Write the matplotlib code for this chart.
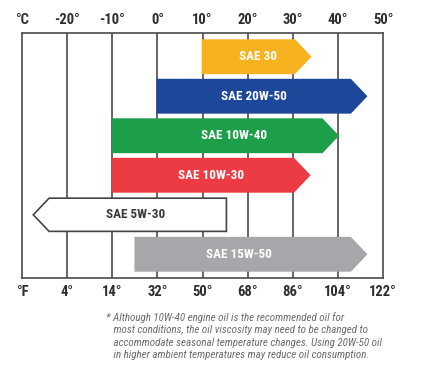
import matplotlib
matplotlib.use("Agg")
import matplotlib.pyplot as plt
from matplotlib.patches import Polygon

# SAE oil viscosity chart by ambient temperature

oils = ['SAE 30', 'SAE 20W-50', 'SAE 10W-40', 'SAE 10W-30', 'SAE 5W-30', 'SAE 15W-50']
flat_end = [10, 0, -10, -10, 15.3, -4.9]      # °C, square end of the arrow
tip_end = [33.9, 46.3, 40.0, 33.7, -27.5, 46.3]  # °C, pointed end
label_x = [22.2, 21.3, 16.9, 12.0, -4.9, 18.0]
colors = ['#f6b21f', '#1d4798', '#1d9e48', '#ed3b44', '#ffffff', '#a6a7aa']
text_colors = ['white', 'white', 'white', 'white', '#3a3a3a', 'white']

celsius = [-20, -10, 0, 10, 20, 30, 40, 50]
fahrenheit = ['4°', '14°', '32°', '50°', '68°', '86°', '104°', '122°']

note = ("* Although 10W-40 engine oil is the recommended oil for\n"
        "   most conditions, the oil viscosity may need to be changed to\n"
        "   accommodate seasonal temperature changes. Using 20W-50 oil\n"
        "   in higher ambient temperatures may reduce oil consumption.")

fonts = ['Roboto Condensed', 'DejaVu Sans']
grid_col = '#4a4a4a'

fig = plt.figure(figsize=(4.23, 3.84), dpi=100)
ax = fig.add_axes([22 / 423, 106 / 384, 361 / 423, 245 / 384])
ax.set_xlim(-30, 50)
ax.set_ylim(5.6, -0.6)

for x in celsius[:-1]:
    ax.axvline(x, color=grid_col, lw=1.2, zorder=1)
for s in ax.spines.values():
    s.set_color(grid_col)
    s.set_linewidth(1.2)

h = 0.84
depth = 3.5
for i, name in enumerate(oils):
    a, b = flat_end[i], tip_end[i]
    d = depth if b > a else -depth
    pts = [(a, i - h / 2), (b - d, i - h / 2), (b, i), (b - d, i + h / 2), (a, i + h / 2)]
    edge = '#444444' if colors[i] == '#ffffff' else colors[i]
    ax.add_patch(Polygon(pts, closed=True, facecolor=colors[i], edgecolor=edge,
                         lw=1.2, zorder=3))
    ax.text(label_x[i], i, name, ha='center', va='center', color=text_colors[i],
            fontsize=9.5, fontweight='bold', family=fonts, zorder=4)

ax.set_yticks([])
ax.set_xticks([-30] + celsius)
ax.set_xticklabels(['°F'] + fahrenheit)
ax.tick_params(axis='x', length=0, pad=5, labelsize=10.5, colors='#2e2e2e')
for lab in ax.get_xticklabels():
    lab.set_fontweight('bold')
    lab.set_family(fonts)

top = ax.secondary_xaxis('top')
top.set_xticks([-30] + celsius)
top.set_xticklabels(['°C'] + ['%d°' % c for c in celsius])
top.tick_params(axis='x', length=0, pad=4, labelsize=10.5, colors='#2e2e2e')
top.spines['top'].set_visible(False)
for lab in top.get_xticklabels():
    lab.set_fontweight('bold')
    lab.set_family(fonts)

fig.text(106 / 423, 1 - 312 / 384, note, ha='left', va='top', fontsize=7.9,
         style='italic', color='#6b6b6b', family=fonts, linespacing=1.3)

fig.savefig('out.png', dpi=100)
